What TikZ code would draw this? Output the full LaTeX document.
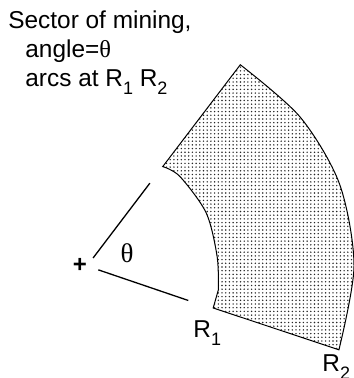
\documentclass[tikz,border=0pt]{standalone}
\usepackage{fontspec}
\setmainfont{Liberation Sans}
\newfontfamily\thetafont{Liberation Serif}
\usetikzlibrary{patterns.meta}
\newcommand\lowidx[1]{\raisebox{-0.3em}{\fontsize{9}{9}\selectfont #1}}
\tikzset{
  lbl/.style={font=\fontsize{12.2}{14.5}\selectfont, inner sep=0pt, anchor=base west},
  arm/.style={line width=0.65pt},
  rock/.style={draw, line width=0.5pt, pattern={Dots[radius=0.4pt, distance=1.85pt]}, pattern color=black!85},
}

\begin{document}
\begin{tikzpicture}[x=0.5pt, y=0.5pt]
    \useasboundingbox (0,0) rectangle (353,378);
    % caption
    \node[lbl] (title) at (8,349) {Sector of mining,};
    \node[lbl] (anglenote) at (25,320) {angle={\thetafont θ}};
    \node[lbl] (arcsnote) at (25,291) {arcs at R\lowidx{1} R\lowidx{2}};
    % sector and angle
    \node[font=\fontsize{12}{14}\selectfont\bfseries, inner sep=0pt] (centre) at (80,113) {+};
    \begin{scope}[shift={(87,112)}]
      \draw[rock] (52.7:125) -- (52.7:253)
        -- plot[smooth] coordinates {(52.7:253) (35:260) (18:265.5) (0:267) (-18.4:265.5)}
        -- (-18.4:133) -- (-10.4:133.5)
        -- plot[smooth] coordinates {(-10.4:133.5) (4:130.5) (24:130.5) (44:129) (52.7:125)}
        -- cycle;
      \draw[arm] (52.8:10) -- (52.8:104);
      \draw[arm] (-18.8:12) -- (-18.8:107);
    \end{scope}
    \node[font=\fontsize{13.5}{14}\selectfont\thetafont, inner sep=0pt] (theta) at (127,125) {θ};
    \node[lbl] (rone) at (193,40) {R\lowidx{1}};
    \node[lbl] (rtwo) at (322,6) {R\lowidx{2}};
\end{tikzpicture}
\end{document}
